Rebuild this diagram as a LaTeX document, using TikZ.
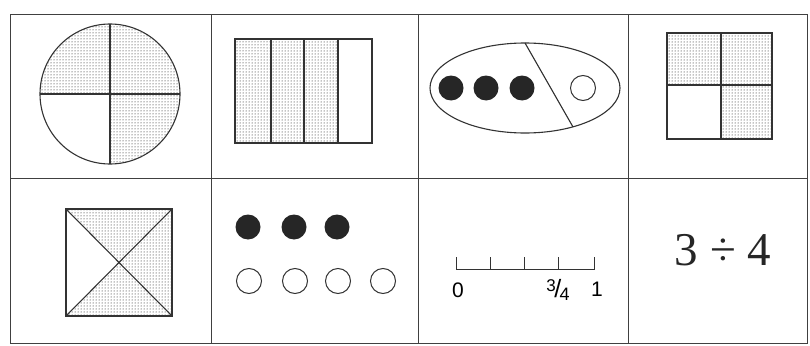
\documentclass[tikz,border=0pt]{standalone}
\usepackage{fontspec}
\setmainfont{Liberation Serif}
\setsansfont{Liberation Sans}
\usetikzlibrary{patterns}
\begin{document}
\begin{tikzpicture}[x=1pt,y=-1pt,
  grid/.style={draw=black!75, line width=0.9pt},
  outl/.style={draw=black!80, line width=1.1pt},
  pat/.style={pattern=dots, pattern color=black},
  dotfull/.style={circle, fill=black!85, minimum size=25pt, inner sep=0pt},
  dotopen/.style={circle, draw=black!80, line width=1pt, minimum size=25pt, inner sep=0pt},
  numlab/.style={font=\sffamily\fontsize{21}{22}\selectfont, inner sep=0pt}]
\useasboundingbox (0,0) rectangle (810,345);
% grid
\draw[grid] (10,14) rectangle (807,343);
\draw[grid] (10,178) -- (807,178);
\draw[grid] (211,14) -- (211,343);
\draw[grid] (418,14) -- (418,343);
\draw[grid] (628,14) -- (628,343);
% cell 1: circle
\fill[pat] (110,94) circle[radius=70];
\fill[white] (110,94) -- (40,94) arc[start angle=180, end angle=90, radius=70] -- cycle;
\draw[outl] (110,94) circle[radius=70];
\draw[outl] (40,94) -- (180,94);
\draw[outl] (110,24) -- (110,164);
% cell 2: strips
\fill[pat] (235,39) rectangle (338,143);
\draw[outl] (235,39) rectangle (372,143);
\draw[outl] (271,39) -- (271,143);
\draw[outl] (304,39) -- (304,143);
\draw[outl] (338,39) -- (338,143);
% cell 3: ellipse
\draw[outl] (525,88) ellipse[x radius=95, y radius=45];
\draw[outl] (525,43) -- (573,127);
\node[dotfull] (e1) at (451,88) {};
\node[dotfull] (e2) at (486,88) {};
\node[dotfull] (e3) at (522,88) {};
\node[dotopen] (e4) at (583,88) {};
% cell 4: square quarters
\fill[pat] (667,33) rectangle (772,85);
\fill[pat] (721,85) rectangle (772,139);
\draw[outl] (667,33) rectangle (772,139);
\draw[outl] (667,85) -- (772,85);
\draw[outl] (721,33) -- (721,139);
% cell 5: square with diagonals
\fill[pat] (66,209) rectangle (172,316);
\fill[white] (66,209) -- (119,262.5) -- (66,316) -- cycle;
\draw[outl] (66,209) rectangle (172,316);
\draw[outl] (66,209) -- (172,316);
\draw[outl] (66,316) -- (172,209);
% cell 6: dots
\node[dotfull] (f1) at (248,227) {};
\node[dotfull] (f2) at (294,227) {};
\node[dotfull] (f3) at (337,227) {};
\node[dotopen] (o1) at (249,281) {};
\node[dotopen] (o2) at (295,281) {};
\node[dotopen] (o3) at (338,281) {};
\node[dotopen] (o4) at (383,281) {};
% cell 7: number line
\draw[outl, line width=1pt] (456,257) -- (456,269) -- (594,269) -- (594,257);
\foreach \x in {490,524,558} \draw[outl, line width=1pt] (\x,257) -- (\x,269);
\node[numlab] (n0) at (458,290) {0};
\node[numlab] (n34) at (558,290) {\raisebox{6pt}{\fontsize{17}{17}\selectfont 3}\kern-1.5pt{\fontsize{25}{25}\selectfont /}\kern-1.5pt\raisebox{-3pt}{\fontsize{18}{18}\selectfont 4}};
\node[numlab] (n1) at (597,289) {1};
% cell 8
\node[font=\fontsize{47}{50}\selectfont, text=black!85] (div) at (723,250) {3 ÷ 4};
\end{tikzpicture}
\end{document}
